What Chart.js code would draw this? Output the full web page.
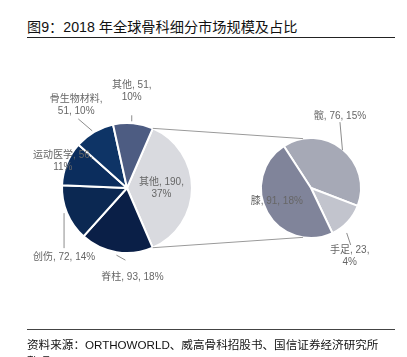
<!DOCTYPE html>
<html><head><meta charset="utf-8">
<script src="https://cdn.jsdelivr.net/npm/chart.js@4"></script>
<style>
html,body{margin:0;padding:0;background:#fff;}
#wrap{position:relative;width:407px;height:357px;overflow:hidden;font-family:"Liberation Sans","Noto Sans CJK SC",sans-serif;}
canvas{position:absolute;left:0;top:0;}
#title{position:absolute;left:27px;top:16px;font-size:14.2px;font-weight:400;color:#111;white-space:nowrap;}
#tline{position:absolute;left:27px;top:37px;width:368px;height:1px;background:#222;}
#fline{position:absolute;left:27px;top:329px;width:368px;height:1px;background:#444;}
#foot{position:absolute;left:27px;top:336px;width:362px;font-size:11.6px;line-height:17px;color:#111;}
</style></head>
<body><div id="wrap">
<div id="title">图9：2018 年全球骨科细分市场规模及占比</div>
<div id="tline"></div>
<canvas id="c1" width="407" height="357"></canvas>
<canvas id="c2" width="407" height="357"></canvas>
<div id="fline"></div>
<div id="foot">资料来源：ORTHOWORLD、威高骨科招股书、国信证券经济研究所整理</div>
</div>
<script>
// ---- data ----
const mainCategories = ['其他', '脊柱', '创伤', '运动医学', '骨生物材料', '其他'];
const mainValues = [190, 93, 72, 56, 51, 51];
const mainPercents = ['37%', '18%', '14%', '11%', '10%', '10%'];
const subCategories = ['髋', '手足', '膝'];
const subValues = [76, 23, 91];
const subPercents = ['15%', '4%', '18%'];

// ---- styles ----
const mainColors = ['#d9dadf', '#0a1f47', '#0b2852', '#0b2d5d', '#0e3466', '#4d5c82'];
const subColors = ['#a6a9b6', '#c2c4cd', '#80849a'];
// label layout relative to slice mid-edge point: which line breaks, text offset, optional leader
const mainLabelStyle = [
  {inside: 0.53, split: 2},
  {split: 0, dx: 16, dy: 25, lead: [0, 3, 9, 8]},
  {split: 0, dx: -3, dy: 44, lead: [-3, 0, -3, 35]},
  {split: 2, dx: -4, dy: -2},
  {split: 1, dx: -18, dy: -27, lead: [-2, -1, -16, -13]},
  {split: 2, dx: -1.5, dy: -32, lead: [-1.5, -2, -1.5, -8]}
];
const subLabelStyle = [
  {split: 0, dx: -2.5, dy: -33, lead: [0, 1, -2.5, -27]},
  {split: 2, dx: 2, dy: 34, lead: [-1, 11, 3, 23]},
  {split: 0, dx: 9.4, dy: -11.4}
];
const labelFont = '10px "Liberation Sans","Noto Sans CJK SC",sans-serif';
const labelColor = '#666666';

function labelLines(cat, val, pct, split) {
  if (split === 1) return [cat + ',', val + ', ' + pct];
  if (split === 2) return [cat + ', ' + val + ',', pct];
  return [cat + ', ' + val + ', ' + pct];
}

function makeLabels(styles, cats, vals, pcts) {
  return {
    id: 'lbl',
    afterDraw(chart) {
      const ctx = chart.ctx;
      const meta = chart.getDatasetMeta(0);
      ctx.save();
      ctx.font = labelFont;
      ctx.textAlign = 'center';
      ctx.textBaseline = 'middle';
      meta.data.forEach((arc, i) => {
        const s = styles[i];
        const mid = (arc.startAngle + arc.endAngle) / 2;
        let bx, by;
        if (s.inside) {
          bx = arc.x + Math.cos(mid) * arc.outerRadius * s.inside;
          by = arc.y + Math.sin(mid) * arc.outerRadius * s.inside;
        } else {
          const ex = arc.x + Math.cos(mid) * arc.outerRadius;
          const ey = arc.y + Math.sin(mid) * arc.outerRadius;
          if (s.lead) {
            ctx.strokeStyle = '#8c8c8c';
            ctx.lineWidth = 1;
            ctx.beginPath();
            ctx.moveTo(ex + s.lead[0], ey + s.lead[1]);
            ctx.lineTo(ex + s.lead[2], ey + s.lead[3]);
            ctx.stroke();
          }
          bx = ex + s.dx; by = ey + s.dy;
        }
        ctx.fillStyle = labelColor;
        const lines = labelLines(cats[i], vals[i], pcts[i], s.split);
        const n = lines.length;
        lines.forEach((t, k) => {
          ctx.fillText(t, bx, by + (k - (n - 1) / 2) * 12);
        });
      });
      ctx.restore();
    }
  };
}

const leftChart = new Chart(document.getElementById('c1'), {
  type: 'pie',
  data: {labels: mainCategories, datasets: [{data: mainValues, backgroundColor: mainColors, borderColor: '#ffffff', borderWidth: 2}]},
  options: {
    responsive: false, animation: false, rotation: 23.4,
    layout: {padding: {left: 61, right: 214, top: 122, bottom: 103}},
    plugins: {legend: {display: false}, tooltip: {enabled: false}}
  },
  plugins: [makeLabels(mainLabelStyle, mainCategories, mainValues, mainPercents)]
});

const connector = {
  id: 'conn',
  afterDraw(chart) {
    const ctx = chart.ctx;
    const a = leftChart.getDatasetMeta(0).data[0];
    const b = chart.getDatasetMeta(0).data[0];
    const rb = b.outerRadius;
    const t1 = -Math.PI / 2 - 0.16, t2 = Math.PI / 2 + 0.16;
    ctx.save();
    ctx.strokeStyle = '#9a9a9a';
    ctx.lineWidth = 1;
    ctx.beginPath();
    ctx.moveTo(a.x + Math.cos(a.startAngle) * a.outerRadius, a.y + Math.sin(a.startAngle) * a.outerRadius);
    ctx.lineTo(b.x + Math.cos(t1) * rb, b.y + Math.sin(t1) * rb);
    ctx.moveTo(a.x + Math.cos(a.endAngle) * a.outerRadius, a.y + Math.sin(a.endAngle) * a.outerRadius);
    ctx.lineTo(b.x + Math.cos(t2) * rb, b.y + Math.sin(t2) * rb);
    ctx.stroke();
    ctx.restore();
  }
};

new Chart(document.getElementById('c2'), {
  type: 'pie',
  data: {labels: subCategories, datasets: [{data: subValues, backgroundColor: subColors, borderColor: '#ffffff', borderWidth: 2}]},
  options: {
    responsive: false, animation: false, rotation: -33,
    layout: {padding: {left: 260, right: 45, top: 137, bottom: 118}},
    plugins: {legend: {display: false}, tooltip: {enabled: false}}
  },
  plugins: [connector, makeLabels(subLabelStyle, subCategories, subValues, subPercents)]
});
</script>
</body></html>
